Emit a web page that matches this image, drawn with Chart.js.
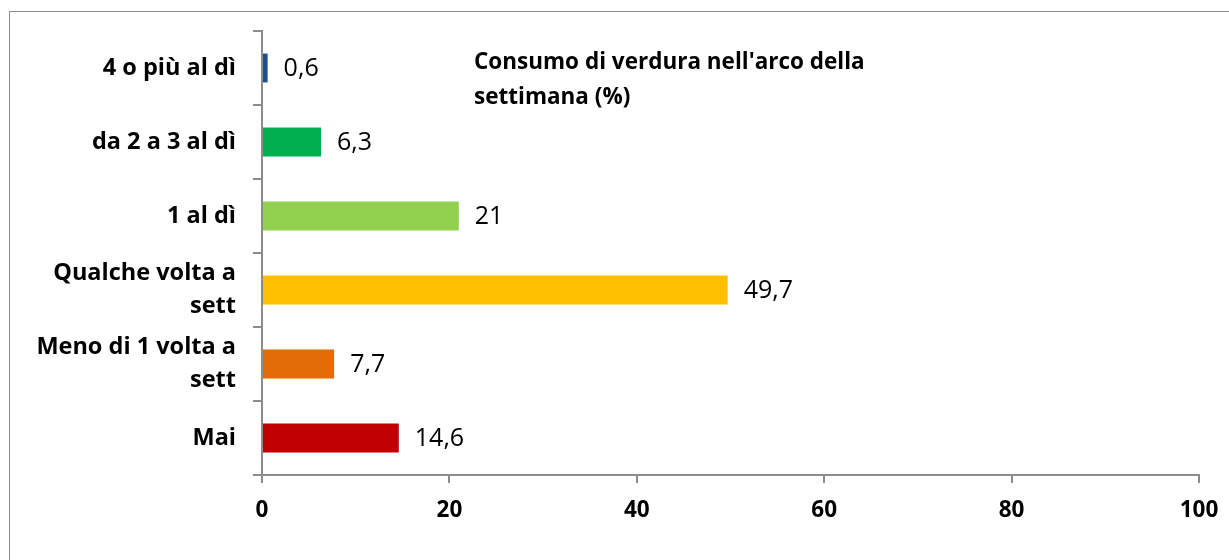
<!DOCTYPE html>
<html>
<head>
<meta charset="utf-8">
<script src="https://cdn.jsdelivr.net/npm/chart.js@4/dist/chart.umd.min.js"></script>
<style>
  html, body { margin: 0; padding: 0; background: #fff; }
  #wrap { position: relative; width: 1229px; height: 560px; overflow: hidden; }
  #frame { position: absolute; left: 9px; top: 11px; width: 1300px; height: 700px; border: 1px solid #8c8c8c; box-sizing: border-box; }
  canvas { position: absolute; left: 0; top: 0; }
</style>
</head>
<body>
<div id="wrap">
  <div id="frame"></div>
  <canvas id="c" width="1229" height="560"></canvas>
</div>
<script>
const categories = [
  "4 o più al dì",
  "da 2 a 3 al dì",
  "1 al dì",
  ["Qualche volta a", "sett"],
  ["Meno di 1 volta a", "sett"],
  "Mai"
];
const values = [0.6, 6.3, 21, 49.7, 7.7, 14.6];
const valueLabels = ["0,6", "6,3", "21", "49,7", "7,7", "14,6"];
const barColors = ["#1F4E8C", "#00B050", "#92D050", "#FFC000", "#E36C09", "#C00000"];
const xTicks = [0, 20, 40, 60, 80, 100];
const titleLines = ["Consumo di verdura nell'arco della", "settimana (%)"];

const FONT = "'Open Sans', Lato, sans-serif";
const AXIS = "#8c8c8c";

const valueLabelPlugin = {
  id: 'valueLabels',
  afterDatasetsDraw(chart) {
    const ctx = chart.ctx;
    const meta = chart.getDatasetMeta(0);
    ctx.save();
    ctx.font = "25px " + FONT;
    ctx.fillStyle = "#000";
    ctx.textAlign = "left";
    ctx.textBaseline = "middle";
    meta.data.forEach((bar, i) => {
      ctx.fillText(valueLabels[i], bar.x + 16, bar.y + 1);
    });
    ctx.restore();
  }
};

const titlePlugin = {
  id: 'customTitle',
  afterDraw(chart) {
    const ctx = chart.ctx;
    ctx.save();
    ctx.font = "bold 22.5px " + FONT;
    ctx.fillStyle = "#000";
    ctx.textAlign = "left";
    ctx.textBaseline = "middle";
    titleLines.forEach((t, i) => ctx.fillText(t, 474, 63 + i * 34.5));
    ctx.restore();
  }
};

new Chart(document.getElementById('c'), {
  type: 'bar',
  data: {
    labels: categories,
    datasets: [{
      data: values,
      backgroundColor: barColors,
      borderWidth: 0,
      categoryPercentage: 1.0,
      barPercentage: 0.39
    }]
  },
  options: {
    indexAxis: 'y',
    responsive: false,
    animation: false,
    devicePixelRatio: 1,
    layout: { padding: { left: 0, top: 31, right: 30, bottom: 0 } },
    plugins: {
      legend: { display: false },
      tooltip: { enabled: false },
      title: { display: false }
    },
    scales: {
      x: {
        min: 0,
        max: 100,
        afterBuildTicks(scale) { scale.ticks = xTicks.map(v => ({ value: v })); },
        afterFit(scale) { scale.height = 85; scale.paddingRight = 0; scale.paddingLeft = 0; },
        border: { display: true, color: AXIS, width: 2 },
        grid: { drawOnChartArea: false, drawTicks: true, tickLength: 8, color: AXIS, lineWidth: 2 },
        ticks: {
          color: "#000",
          padding: 14,
          font: { family: FONT, size: 22.5, weight: 'bold' }
        }
      },
      y: {
        afterFit(scale) { scale.width = 262; scale.paddingTop = 0; scale.paddingBottom = 0; },
        border: { display: true, color: AXIS, width: 2 },
        grid: { offset: true, drawOnChartArea: false, drawTicks: true, tickLength: 9, color: AXIS, lineWidth: 2 },
        ticks: {
          color: "#000",
          padding: 17,
          font: { family: FONT, size: 23.5, weight: 'bold', lineHeight: 1.38 }
        }
      }
    }
  },
  plugins: [valueLabelPlugin, titlePlugin]
});
</script>
</body>
</html>
